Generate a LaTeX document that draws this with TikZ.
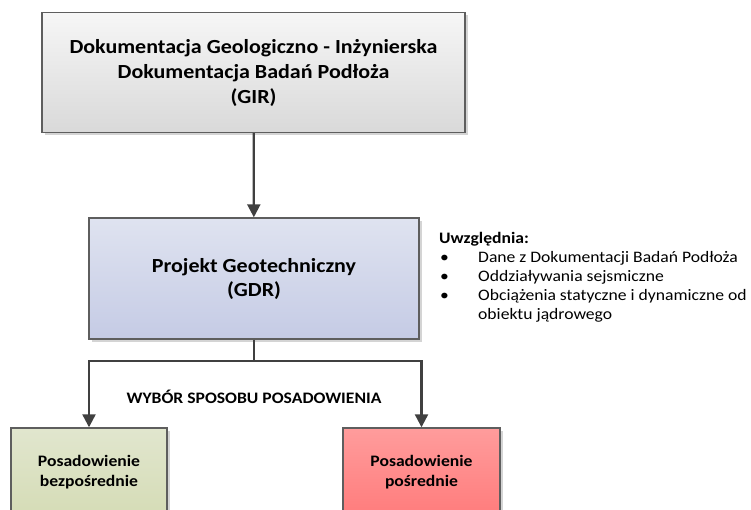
\documentclass[tikz,border=0pt]{standalone}
\usepackage{fontspec}
\setmainfont[FakeStretch=1.1]{Carlito}
\usetikzlibrary{arrows.meta,shadows}
\definecolor{linec}{HTML}{404040}
\definecolor{borderc}{HTML}{5E5E5E}
\definecolor{shadc}{HTML}{D4D4D4}
\definecolor{girtop}{HTML}{F6F6F6}
\definecolor{girbot}{HTML}{D9D9D9}
\definecolor{gdrtop}{HTML}{DFE3F0}
\definecolor{gdrbot}{HTML}{C5CBE5}
\definecolor{grtop}{HTML}{E1E6CE}
\definecolor{grbot}{HTML}{D5DCB6}
\definecolor{rdtop}{HTML}{FF9C9C}
\definecolor{rdbot}{HTML}{FF7C7C}
\tikzset{
  box/.style={draw=borderc, line width=1.4pt, align=center, inner sep=0pt,
    font=\bfseries,
    drop shadow={shadow xshift=3pt, shadow yshift=-3pt, fill=shadc, opacity=1}},
  conn/.style={draw=linec, line width=2.3pt},
  arr/.style={conn, -{Triangle[width=13pt,length=13pt]}},
}
\begin{document}
\begin{tikzpicture}[x=1pt,y=-1pt]
\useasboundingbox (0,0) rectangle (751,510);
\clip (0,0) rectangle (751,510);
\node[box, top color=girtop, bottom color=girbot, minimum width=423pt, minimum height=120pt,
  font=\fontsize{20}{25}\selectfont\bfseries] (gir) at (253.5,72.5)
  {Dokumentacja Geologiczno - Inżynierska\\Dokumentacja Badań Podłoża\\(GIR)};
\node[box, top color=gdrtop, bottom color=gdrbot, minimum width=330pt, minimum height=121pt,
  font=\fontsize{20}{24}\selectfont\bfseries] (gdr) at (254,278.5)
  {\raisebox{-2pt}{Projekt Geotechniczny}\\\raisebox{-2pt}{(GDR)}};
\node[box, top color=grtop, bottom color=grbot, minimum width=156pt, minimum height=88pt,
  font=\fontsize{16}{19.5}\selectfont\bfseries] (left) at (89,472)
  {Posadowienie\\bezpośrednie};
\node[box, top color=rdtop, bottom color=rdbot, minimum width=157pt, minimum height=88pt,
  font=\fontsize{16}{19.5}\selectfont\bfseries] (right) at (421.5,472)
  {Posadowienie\\pośrednie};
\coordinate (split) at (254,361);
\draw[arr] (gir) -- (gdr);
\draw[conn] (gdr.south) -- (split);
\draw[arr] (split) -| (left.north);
\draw[arr] (split) -| (right.north);
\node[font=\fontsize{16}{19}\selectfont\bfseries] (wybor) at (254,397) {WYBÓR SPOSOBU POSADOWIENIA};
\node[anchor=north west, inner sep=0pt, font=\fontsize{16}{19}\selectfont, align=left] (list) at (439,232.5)
  {\textbf{Uwzględnia:}\\
   \makebox[39pt][l]{\hspace{1pt}•}Dane z Dokumentacji Badań Podłoża\\
   \makebox[39pt][l]{\hspace{1pt}•}Oddziaływania sejsmiczne\\
   \makebox[39pt][l]{\hspace{1pt}•}Obciążenia statyczne i dynamiczne od\\
   \hspace*{39pt}obiektu jądrowego};
\end{tikzpicture}
\end{document}
